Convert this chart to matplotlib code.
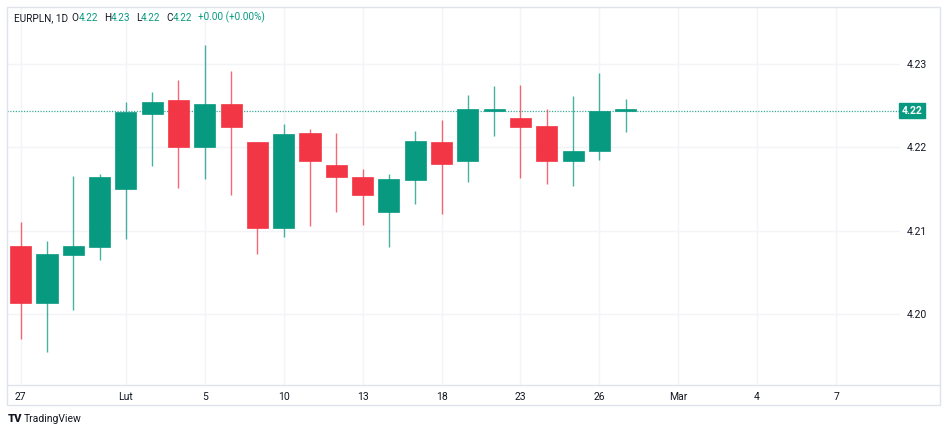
import numpy as np
import matplotlib
matplotlib.use("Agg")
import matplotlib.pyplot as plt
from matplotlib.patches import Rectangle
from matplotlib.lines import Line2D
import matplotlib.transforms as mtransforms

plt.rcParams['font.family'] = ['Roboto', 'DejaVu Sans']

# daily candles, EURPLN, 27 Jan .. 27 Feb
opens  = [4.2082, 4.2013, 4.2071, 4.2081, 4.2150, 4.2240, 4.2257, 4.2200, 4.2252, 4.2206, 4.2103, 4.2217,
          4.2179, 4.2164, 4.2122, 4.2161, 4.2207, 4.2183, 4.2244, 4.2235, 4.2225, 4.2184, 4.2196, 4.2244]
closes = [4.2013, 4.2072, 4.2082, 4.2164, 4.2242, 4.2254, 4.2200, 4.2252, 4.2224, 4.2103, 4.2216, 4.2184,
          4.2164, 4.2143, 4.2162, 4.2208, 4.2180, 4.2246, 4.2245, 4.2224, 4.2183, 4.2196, 4.2244, 4.2244]
highs  = [4.2110, 4.2088, 4.2166, 4.2168, 4.2254, 4.2266, 4.2281, 4.2323, 4.2292, 4.2206, 4.2228, 4.2222,
          4.2217, 4.2174, 4.2168, 4.2220, 4.2233, 4.2263, 4.2274, 4.2275, 4.2246, 4.2262, 4.2289, 4.2258]
lows   = [4.1970, 4.1954, 4.2005, 4.2065, 4.2090, 4.2178, 4.2151, 4.2162, 4.2143, 4.2072, 4.2093, 4.2106,
          4.2122, 4.2107, 4.2081, 4.2132, 4.2120, 4.2158, 4.2214, 4.2163, 4.2156, 4.2154, 4.2185, 4.2219]

date_ticks = [0, 4, 7, 10, 13, 16, 19, 22, 25, 28, 31]
date_labels = ['27', 'Lut', '5', '10', '13', '18', '23', '26', 'Mar', '4', '7']
price_ticks = [4.20, 4.21, 4.22, 4.23]

green = '#089981'
red = '#F23645'
grid = '#f2f4f8'
txt = '#131722'

W, H = 948, 433
fig = plt.figure(figsize=(W / 100, H / 100), dpi=100)
ax = fig.add_axes([7 / W, (H - 385) / H, (900 - 7) / W, (385 - 7) / H])

o = np.array(opens)
c = np.array(closes)
x = np.arange(len(o))
up = c >= o
cols = np.where(up, green, red)

# wicks then bodies
ax.vlines(x, lows, highs, colors=cols, linewidth=1, alpha=0.75, zorder=2)
bot = np.minimum(o, c)
hgt = np.maximum(np.abs(c - o), 0.00018)  # doji still gets a thin body
ax.bar(x, hgt, bottom=bot, width=0.8, color=cols, edgecolor=cols, linewidth=0.5, zorder=3)

ax.set_xlim(-0.52, 33.43)
ax.set_ylim(4.19148, 4.23684)

for t in date_ticks:
    ax.axvline(t, color=grid, lw=1, zorder=0)
for p in price_ticks:
    ax.axhline(p, color=grid, lw=1, zorder=0)

ax.set_xticks(date_ticks)
ax.set_xticklabels(date_labels)
ax.set_yticks(price_ticks)
ax.set_yticklabels(['%.2f' % p for p in price_ticks])
ax.yaxis.tick_right()
ax.tick_params(axis='both', length=0, labelsize=7.5, labelcolor=txt)
ax.tick_params(axis='x', pad=5)
ax.tick_params(axis='y', pad=5)
for s in ax.spines.values():
    s.set_visible(False)

# last price line and label
last = closes[-1]
ax.axhline(last, color=green, lw=0.9, alpha=0.8, linestyle=(0, (1, 1.2)), zorder=1)
tr = mtransforms.blended_transform_factory(ax.transAxes, ax.transData)
ax.text(1.0 + 2 / 893, last, '%.2f' % last, transform=tr, ha='left', va='center',
        fontsize=7.5, color='white', fontweight='bold',
        bbox=dict(boxstyle='square,pad=0.25', facecolor=green, edgecolor=green))

# frame
fig.patches.append(Rectangle((7 / W, (H - 405) / H), 933 / W, 398 / H, transform=fig.transFigure,
                             fill=False, edgecolor='#e0e3eb', lw=1))
fig.lines.append(Line2D([7 / W, 940 / W], [(H - 385) / H] * 2, transform=fig.transFigure,
                        color='#e0e3eb', lw=1))

# header, pieces chained one after another
parts = [('O', txt, 2.5), ('4.22', green, 0), ('H', txt, 4), ('4.23', green, 0),
         ('L', txt, 4), ('4.22', green, 0), ('C', txt, 4), ('4.22', green, 0),
         ('+0.00 (+0.00%)', green, 4)]
prev = fig.text(14 / W, 1 - 23 / H, 'EURPLN, 1D', fontsize=7.2, color=txt, va='bottom', ha='left')
for s, col, gap in parts:
    prev = ax.annotate(s, xy=(1, 0), xycoords=prev, xytext=(gap, 0), textcoords='offset points',
                       fontsize=7.2, color=col, va='bottom', ha='left', annotation_clip=False)

# footer logo
fig.text(8 / W, 1 - 419 / H, 'TV', fontsize=8, fontweight='black', color=txt, va='center', ha='left')
fig.text(24 / W, 1 - 419 / H, 'TradingView', fontsize=7.5, color=txt, va='center', ha='left')

fig.savefig('out.png', dpi=100, facecolor='white')
